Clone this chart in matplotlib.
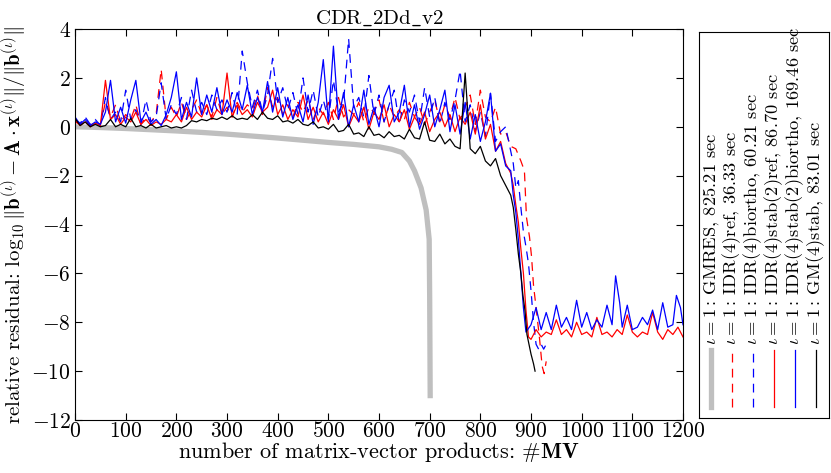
import numpy as np
import matplotlib
matplotlib.use("Agg")
import matplotlib.pyplot as plt

plt.rcParams['font.family'] = 'serif'
plt.rcParams['font.serif'] = ['cmr10']
plt.rcParams['mathtext.fontset'] = 'cm'
plt.rcParams['axes.formatter.use_mathtext'] = True

# GMRES (smooth)
gm_x = [0, 50, 100, 150, 200, 250, 300, 350, 400, 450, 500, 550, 600, 625, 645,
        660, 670, 683, 693, 699, 700, 701]
gm_y = [0, -0.03, -0.07, -0.12, -0.17, -0.23, -0.3, -0.38, -0.46, -0.55, -0.64,
        -0.72, -0.82, -0.92, -1.05, -1.4, -1.8, -2.5, -3.4, -4.6, -7.0, -11.0]

# noisy part, every 10 MV from 0 to 850
x_noisy = np.arange(0, 860, 10)

black_noisy = [0.35, 0.05, 0.2, 0.0, 0.1, 0.0, 0.05, 0.3, 0.0, 0.1, 0.0, 0.35, 0.0, 0.05,
               -0.05, 0.1, -0.05, 0.0, 0.05, -0.05, 0.0, -0.05, 0.05, 0.25, 0.2, 0.3, 0.25,
               0.35, 0.3, 0.4, 0.3, 0.45, 0.3, 0.35, 0.3, 0.5, 0.3, 0.6, 0.35, 0.3, 0.45,
               0.2, 0.25, 0.15, 0.3, 0.1, 0.05, 0.2, -0.05, 0.0, -0.1, 0.1, -0.2, -0.15, 0.1,
               -0.3, -0.25, -0.4, 0.0, -0.35, -0.3, -0.45, -0.2, -0.4, -0.35, -0.5, -0.1,
               -0.45, -0.5, 0.2, -0.55, -0.6, -0.3, -0.7, -0.5, -0.8, -0.9, 2.2, -0.9, -1.1,
               -0.8, -1.4, -1.6, -1.3, -2.0, -2.4]
black_end_x = [860, 865, 870, 875, 880, 884, 888, 892, 896, 900, 905, 908]
black_end_y = [-2.8, -3.3, -4.2, -5.2, -6.0, -6.9, -7.5, -8.5, -8.9, -9.3, -9.7, -10.0]

blue_noisy = [0.4, 0.1, 0.3, 0.05, 0.2, 0.1, 0.6, 1.9, 0.2, 0.8, 0.15, 1.1, 1.9, 0.2, 0.6,
              0.1, 0.3, 0.05, 0.5, 1.2, 2.25, 0.3, 1.0, 0.4, 2.0, 0.5, 1.3, 0.6, 1.6, 0.5,
              1.1, 0.6, 1.4, 0.7, 1.7, 0.5, 1.2, 0.6, 1.85, 0.6, 1.6, 0.4, 1.2, 0.3, 0.9,
              0.2, 1.3, 0.1, 1.0, 2.75, 0.2, 3.3, 0.3, 1.4, 0.0, 0.9, 0.2, 1.5, 0.1, 0.8,
              0.0, 1.2, 1.7, 0.2, 0.6, 1.7, 0.0, 0.9, -0.1, 0.5, 1.3, 0.0, 0.7, 1.5, -0.2,
              0.9, -0.3, 1.0, -0.5, 0.5, -0.6, 0.2, 1.37, -1.0, -0.7, -1.6]
blue_end_x = [860, 865, 870, 875, 880, 885, 890, 900, 910, 920, 930, 940, 950, 960, 970,
              980, 990, 1000, 1010, 1020, 1030, 1040, 1050, 1060, 1067, 1075, 1080, 1090,
              1100, 1110, 1120, 1130, 1140, 1150, 1160, 1170, 1180, 1187, 1195, 1200]
blue_end_y = [-1.8, -2.8, -3.5, -4.6, -6.0, -7.4, -8.4, -8.1, -7.4, -8.3, -7.6, -8.3, -7.3,
              -8.2, -7.8, -8.3, -7.1, -8.2, -7.6, -8.3, -7.9, -8.2, -7.3, -8.1, -6.1, -7.2,
              -8.2, -7.3, -8.3, -8.2, -7.8, -8.1, -7.5, -8.3, -7.2, -8.2, -8.1, -6.9, -7.4,
              -8.1]

bluedash_noisy = [0.3, 0.15, 0.4, 0.1, 0.3, 0.05, 1.2, 0.3, 0.6, 0.2, 1.5, 0.3, 0.7, 0.1,
                  1.1, 0.2, 0.4, 1.8, 0.3, 0.9, 0.5, 1.2, 0.3, 1.5, 0.6, 1.0, 0.5, 1.3, 0.7,
                  1.1, 0.6, 1.4, 0.5, 3.1, 1.8, 0.8, 1.5, 0.6, 1.3, 2.8, 1.0, 1.6, 0.7, 1.4,
                  0.5, 2.0, 0.6, 1.5, 0.4, 1.1, 0.3, 1.9, 0.6, 1.0, 3.6, 0.8, 1.2, 0.4, 2.1,
                  0.5, 1.3, 0.2, 0.9, 1.5, 0.1, 1.1, 0.6, 1.3, 0.2, 1.6, 0.4, 1.2, 0.1, 1.0,
                  0.3, 1.1, 2.3, 0.2, 0.9, -0.2, 0.6, -0.4, 1.37, -0.6, -0.2, 0.0]
bluedash_end_x = [860, 865, 870, 875, 880, 885, 890, 895, 900, 905, 910, 915, 920, 925, 930]
bluedash_end_y = [-1.0, -1.5, -2.5, -2.2, -3.3, -4.3, -4.9, -5.6, -6.7, -8.0, -8.9, -9.1,
                  -8.9, -9.1, -8.9]

reddash_noisy = [0.2, 0.1, 0.3, 0.05, 0.2, 0.1, 1.0, 0.4, 0.9, 0.2, 0.5, 0.3, 0.9, 0.1, 0.4,
                 0.2, 0.5, 2.35, 0.3, 0.8, 0.4, 1.0, 0.3, 0.7, 1.1, 0.5, 0.9, 0.4, 1.2, 0.5,
                 0.8, 0.4, 1.0, 0.6, 0.9, 0.7, 1.3, 0.5, 1.6, 0.8, 1.2, 0.5, 0.9, 0.4, 1.0,
                 0.6, 1.1, 0.3, 0.8, 0.5, 1.0, 0.3, 1.2, 0.4, 0.7, 0.5, 1.0, 0.2, 0.8, 0.6,
                 1.1, 0.2, 0.9, 0.4, 0.7, 0.3, 1.0, 0.4, 0.8, 0.1, 0.6, 1.1, 0.2, 0.9, 0.4,
                 1.2, 0.3, 0.8, 1.3, 0.1, 1.5, 0.4, 0.2, 0.8, -0.3, -0.2]
reddash_end_x = [860, 870, 880, 887, 891, 897, 901, 905, 910, 917, 922, 926, 930]
reddash_end_y = [-0.8, -0.9, -1.4, -1.8, -3.7, -4.5, -5.3, -6.5, -7.4, -8.7, -9.8, -10.1, -9.6]

red_noisy = [0.3, 0.05, 0.2, 0.0, 0.15, 0.05, 1.9, 0.3, 0.5, 0.1, 0.4, 0.2, 0.6, 0.1, 0.3,
             0.05, 0.2, 0.1, 0.3, 0.2, 0.5, 0.2, 0.8, 0.3, 0.6, 0.4, 0.9, 0.3, 0.7, 0.5,
             2.2, 0.4, 0.9, 0.5, 0.7, 0.4, 1.0, 0.6, 0.8, 1.5, 0.5, 0.9, 0.3, 0.7, 0.4, 1.3,
             0.3, 0.8, 0.2, 0.6, 0.1, 0.7, 0.3, 0.9, 0.0, 0.5, 0.2, 0.8, -0.1, 0.6, 0.3,
             0.9, 0.0, 0.5, 0.2, 0.7, -0.1, 0.4, 0.1, 0.6, -0.2, 0.3, 0.6, 0.0, 0.5, -0.2,
             0.4, 0.1, 0.6, -0.3, 0.9, -0.5, 0.1, -1.0, -0.6, -1.5]
red_end_x = [860, 865, 870, 875, 880, 885, 890, 895, 900, 910, 920, 930, 940, 950, 960,
             970, 980, 990, 1000, 1010, 1020, 1030, 1040, 1050, 1060, 1070, 1080, 1090,
             1100, 1110, 1120, 1130, 1140, 1150, 1160, 1170, 1180, 1190, 1200]
red_end_y = [-1.9, -2.4, -3.2, -3.9, -5.0, -6.0, -7.5, -8.6, -8.7, -8.3, -8.6, -8.4, -8.5,
             -7.9, -8.5, -8.3, -8.6, -8.0, -8.5, -8.4, -8.6, -7.8, -8.5, -8.4, -8.6, -8.3,
             -8.5, -7.7, -8.4, -8.6, -8.4, -8.5, -7.6, -8.4, -8.7, -8.3, -8.5, -8.2, -8.6]

labels = [r"$\iota = 1:\,$GMRES, 825.21 sec",
          r"$\iota = 1:\,$IDR(4)ref, 36.33 sec",
          r"$\iota = 1:\,$IDR(4)biortho, 60.21 sec",
          r"$\iota = 1:\,$IDR(4)stab(2)ref, 86.70 sec",
          r"$\iota = 1:\,$IDR(4)stab(2)biortho, 169.46 sec",
          r"$\iota = 1:\,$GM(4)stab, 83.01 sec"]

fig = plt.figure(figsize=(8.31, 4.73), dpi=100)
ax = fig.add_axes([0.0903, 0.112, 0.7316, 0.8266])

dash = (7, 5)
styles = [dict(color='#bfbfbf', lw=3.8),
          dict(color='red', lw=0.9, dashes=dash),
          dict(color='blue', lw=0.9, dashes=dash),
          dict(color='red', lw=0.9),
          dict(color='blue', lw=0.9),
          dict(color='black', lw=0.9)]

series = [(gm_x, gm_y),
          (np.concatenate([x_noisy, reddash_end_x]), reddash_noisy + reddash_end_y),
          (np.concatenate([x_noisy, bluedash_end_x]), bluedash_noisy + bluedash_end_y),
          (np.concatenate([x_noisy, red_end_x]), red_noisy + red_end_y),
          (np.concatenate([x_noisy, blue_end_x]), blue_noisy + blue_end_y),
          (np.concatenate([x_noisy, black_end_x]), black_noisy + black_end_y)]

for (sx, sy), st in zip(series, styles):
    ax.plot(sx, sy, **st)

ax.set_xlim(0, 1200)
ax.set_ylim(-12, 4)
ax.set_xticks(np.arange(0, 1201, 100))
ax.set_yticks(np.arange(-12, 5, 2))
ax.tick_params(direction='in', top=True, right=True, length=5, labelsize=15.5)
ax.tick_params(axis='x', pad=1)
ax.tick_params(axis='y', pad=3)
ax.set_title(r"CDR$\_$2Dd$\_$v2", fontsize=15, pad=4)
ax.set_xlabel(r"number of matrix-vector products: $\#\mathbf{MV}$", fontsize=16, labelpad=-1)
ax.set_ylabel(r"relative residual: $\log_{10}\|\mathbf{b}^{(\iota)}-\mathbf{A}\cdot\mathbf{x}^{(\iota)}\|/\|\mathbf{b}^{(\iota)}\|$",
              fontsize=15)
ax.yaxis.set_label_coords(-0.075, 0.5)

# rotated legend box on the right
lg = fig.add_axes([0.841, 0.1163, 0.157, 0.816])
lg.set_xlim(0, 1)
lg.set_ylim(0, 1)
lg.set_xticks([])
lg.set_yticks([])
for k, (lab, st) in enumerate(zip(labels, styles)):
    xc = 0.092 + k * 0.161
    lg.plot([xc, xc], [0.028, 0.176], **st)
    lg.text(xc, 0.19, lab, rotation=90, ha='center', va='bottom', fontsize=13.3)

fig.savefig("out.png", dpi=100)
